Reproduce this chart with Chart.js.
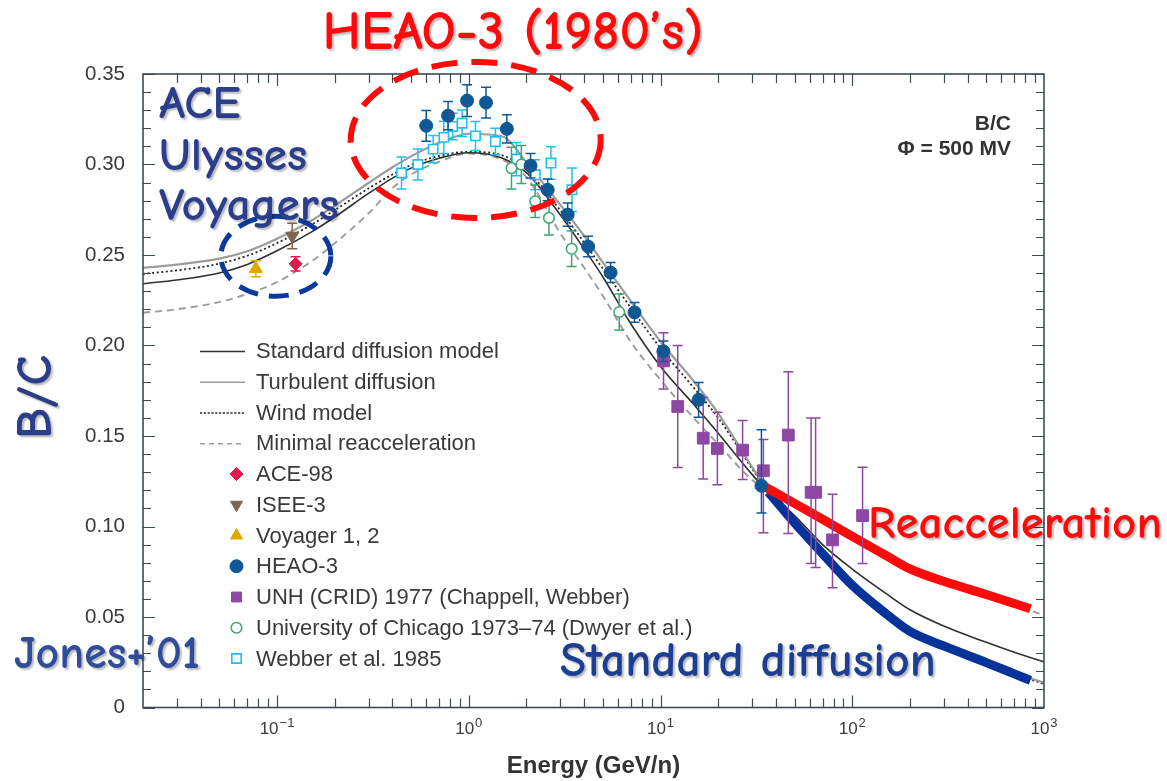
<!DOCTYPE html>
<html>
<head>
<meta charset="utf-8">
<title>B/C ratio versus energy</title>
<script src="https://cdn.jsdelivr.net/npm/chart.js@4.4.1/dist/chart.umd.min.js"></script>
<style>
  html, body { margin: 0; padding: 0; background: #ffffff; }
  canvas { display: block; }
</style>
</head>
<body>
<canvas id="bc" width="1167" height="781"></canvas>
<script>
// ---- propagation models: energy grid (GeV/n) and B/C ratio ----
const modelEnergy = [0.02, 0.03, 0.05, 0.07, 0.1, 0.15, 0.2, 0.3, 0.4, 0.5,
                     0.7, 1, 1.5, 2, 3, 4, 5, 7, 10, 15,
                     20, 30, 35, 50, 70, 100, 150, 200, 300, 500,
                     700, 1000];
const stdDiffusion = [0.2341, 0.2362, 0.2401, 0.2448, 0.2523, 0.2625, 0.2710, 0.2840, 0.2925, 0.2980,
                      0.3035, 0.3065, 0.3035, 0.2955, 0.2722, 0.2533, 0.2380, 0.2120, 0.1884, 0.1671,
                      0.1515, 0.1288, 0.1210, 0.1060, 0.0900, 0.0765, 0.0630, 0.0540, 0.0450, 0.0360,
                      0.0305, 0.0252];
const turbulentDiffusion = [0.2429, 0.2447, 0.2480, 0.2521, 0.2590, 0.2688, 0.2772, 0.2898, 0.2985, 0.3045,
                            0.3120, 0.3170, 0.3155, 0.3010, 0.2777, 0.2605, 0.2459, 0.2245, 0.2022, 0.1799,
                            0.1625, 0.1330, 0.1225, 0.1030, 0.0840, 0.0675, 0.0525, 0.0425, 0.0335, 0.0245,
                            0.0190, 0.0138];
const windModel = [0.2396, 0.2415, 0.2452, 0.2496, 0.2566, 0.2665, 0.2748, 0.2868, 0.2945, 0.2997,
                   0.3047, 0.3070, 0.3050, 0.2970, 0.2747, 0.2568, 0.2425, 0.2209, 0.1985, 0.1763,
                   0.1600, 0.1320, 0.1215, 0.1020, 0.0835, 0.0670, 0.0520, 0.0420, 0.0330, 0.0240,
                   0.0185, 0.0130];
const minimalReacc = [0.2181, 0.2200, 0.2240, 0.2285, 0.2350, 0.2462, 0.2565, 0.2730, 0.2870, 0.2945,
                      0.3015, 0.3060, 0.3025, 0.2930, 0.2620, 0.2430, 0.2275, 0.2020, 0.1810, 0.1596,
                      0.1455, 0.1258, 0.1210, 0.1120, 0.1030, 0.0935, 0.0830, 0.0755, 0.0690, 0.0610,
                      0.0565, 0.0510];

// ---- highlighted high-energy behaviour ----
const reaccHighlightEnergy = [34.4, 50, 70, 100, 150, 200, 300, 500, 850];
const reaccHighlight = [0.1224, 0.1128, 0.1040, 0.0945, 0.0840, 0.0766, 0.0697, 0.0624, 0.0546];
const diffHighlightEnergy = [36.5, 50, 70, 100, 150, 200, 300, 500, 700, 850];
const diffHighlight = [0.1190, 0.1020, 0.0850, 0.0675, 0.0518, 0.0420, 0.0340, 0.0248, 0.0186, 0.0150];

// ---- measurements ----
const aceEnergy = [0.125];
const aceRatio = [0.2451];
const aceErr = [0.0039];

const iseeEnergy = [0.12];
const iseeRatio = [0.2605];
const iseeErr = [0.0070];

const voyagerEnergy = [0.0775];
const voyagerRatio = [0.2424];
const voyagerErr = [0.0044];

const heaoEnergy = [0.60, 0.78, 0.98, 1.23, 1.58, 2.10, 2.58, 3.28, 4.19, 5.49, 7.32, 10.35, 15.8, 33.6];
const heaoRatio = [0.3214, 0.3270, 0.3353, 0.3342, 0.3197, 0.2993, 0.2860, 0.2723, 0.2547, 0.2403, 0.2183, 0.1968, 0.1700, 0.1225];
const heaoErrUp = [0.0085, 0.0078, 0.0088, 0.0085, 0.0078, 0.0068, 0.0060, 0.0064, 0.0057, 0.0055, 0.0055, 0.0057, 0.0096, 0.0310];
const heaoErrDn = [0.0085, 0.0078, 0.0088, 0.0085, 0.0078, 0.0068, 0.0060, 0.0064, 0.0057, 0.0055, 0.0055, 0.0057, 0.0096, 0.0150];

const unhEnergy = [10.37, 12.3, 16.7, 19.8, 26.8, 34.4, 46.4, 61.0, 64.4, 78.9, 113.2];
const unhRatio = [0.1915, 0.1663, 0.1488, 0.1431, 0.1422, 0.1308, 0.1505, 0.1189, 0.1189, 0.0926, 0.1060];
const unhErrUp = [0.0155, 0.0337, 0.0225, 0.0200, 0.0163, 0.0172, 0.0350, 0.0411, 0.0411, 0.0252, 0.0268];
const unhErrDn = [0.0155, 0.0337, 0.0225, 0.0200, 0.0163, 0.0342, 0.0543, 0.0393, 0.0415, 0.0264, 0.0264];

const chicagoEnergy = [1.67, 1.88, 2.22, 2.62, 3.44, 6.09];
const chicagoRatio = [0.2980, 0.3000, 0.2797, 0.2705, 0.2534, 0.2185];
const chicagoErr = [0.0115, 0.0105, 0.0090, 0.0094, 0.0098, 0.0100];

const webberEnergy = [0.446, 0.543, 0.652, 0.741, 0.825, 0.923, 1.084, 1.377, 1.772, 2.224, 2.683, 3.452];
const webberRatio = [0.2953, 0.3000, 0.3085, 0.3150, 0.3210, 0.3228, 0.3158, 0.3127, 0.3030, 0.2943, 0.3008, 0.2860];
const webberErr = [0.0089, 0.0085, 0.0075, 0.0089, 0.0073, 0.0073, 0.0080, 0.0073, 0.0092, 0.0083, 0.0090, 0.0120];

// ---- axes ----
const xMin = 0.02, xMax = 1000;
const yMin = 0, yMax = 0.35;
const xMajorTicks = [0.1, 1, 10, 100, 1000];
const xTickExponents = ['\u22121', '0', '1', '2', '3'];
const yMajorTicks = [0, 0.05, 0.10, 0.15, 0.20, 0.25, 0.30, 0.35];
const yTickLabels = ['0', '0.05', '0.10', '0.15', '0.20', '0.25', '0.30', '0.35'];

// ---- styling ----
const SANS = "'Liberation Sans', Arial, Helvetica, sans-serif";
const HAND = "'Comic Sans MS', 'Comic Neue', 'DejaVu Sans', sans-serif";
const AXIS_COLOR = '#3d4b53';
const TEXT_COLOR = '#3a3a3a';

Chart.defaults.font.family = SANS;

const pts = (xs, ys) => xs.map((x, i) => ({ x: x, y: ys[i] }));

// every minor/major x tick position inside the range
const xAllTicks = [];
for (let e = -2; e <= 2; e++) {
  for (let k = 1; k <= 9; k++) {
    const v = Number((k * Math.pow(10, e)).toPrecision(6));
    if (v > xMin && v < xMax) xAllTicks.push(v);
  }
}
const yAllTicks = [];
for (let i = 0; i <= 35; i++) yAllTicks.push(i / 100);

function curve(label, ys, color, width, dash, legendDash) {
  return {
    label: label, data: pts(modelEnergy, ys), showLine: true, pointRadius: 0,
    borderColor: color, backgroundColor: color, borderWidth: width, borderDash: dash,
    cubicInterpolationMode: 'monotone', fill: false, order: 2,
    legendKind: 'line', legendDash: legendDash
  };
}
function measured(label, xs, ys, up, dn, style) {
  return Object.assign({
    label: label, data: pts(xs, ys), showLine: false, order: 0,
    errUp: up, errDn: dn || up, legendKind: 'marker'
  }, style);
}

const datasets = [
  curve('Standard diffusion model', stdDiffusion, '#303030', 1.6, [], []),
  curve('Turbulent diffusion', turbulentDiffusion, '#9c9c9c', 2.2, [], []),
  curve('Wind model', windModel, '#262626', 1.8, [2, 2.6], [2.2, 1.6]),
  curve('Minimal reacceleration', minimalReacc, '#9c9c9c', 1.9, [7, 5], [5, 4]),
  measured('ACE-98', aceEnergy, aceRatio, aceErr, null, {
    pointStyle: 'rectRot', pointRadius: 6.5, backgroundColor: '#e3184c', borderColor: '#e3184c', borderWidth: 1, capHalf: 5 }),
  measured('ISEE-3', iseeEnergy, iseeRatio, iseeErr, null, {
    pointStyle: 'triangle', pointRotation: 180, pointRadius: 7.5, backgroundColor: '#7e6550', borderColor: '#7e6550', borderWidth: 1, capHalf: 5 }),
  measured('Voyager 1, 2', voyagerEnergy, voyagerRatio, voyagerErr, null, {
    pointStyle: 'triangle', pointRadius: 7.5, backgroundColor: '#dfa800', borderColor: '#dfa800', borderWidth: 1, capHalf: 5 }),
  measured('HEAO-3', heaoEnergy, heaoRatio, heaoErrUp, heaoErrDn, {
    pointStyle: 'circle', pointRadius: 6.5, backgroundColor: '#0f5893', borderColor: '#0f5893', borderWidth: 1, capHalf: 5 }),
  measured('UNH (CRID) 1977 (Chappell, Webber)', unhEnergy, unhRatio, unhErrUp, unhErrDn, {
    pointStyle: 'rect', pointRadius: 8.3, backgroundColor: '#8e47a3', borderColor: '#8e47a3', borderWidth: 1, capHalf: 5 }),
  measured('University of Chicago 1973\u201374 (Dwyer et al.)', chicagoEnergy, chicagoRatio, chicagoErr, null, {
    pointStyle: 'circle', pointRadius: 5.3, backgroundColor: '#ffffff', borderColor: '#3aa86f', borderWidth: 1.5, capHalf: 5 }),
  measured('Webber et al. 1985', webberEnergy, webberRatio, webberErr, null, {
    pointStyle: 'rect', pointRadius: 6.6, backgroundColor: '#ffffff', borderColor: '#1ec0ee', borderWidth: 1.6, capHalf: 5 }),
  {
    label: 'Reacceleration', data: pts(reaccHighlightEnergy, reaccHighlight), showLine: true, pointRadius: 0,
    borderColor: '#ff0a0a', borderWidth: 9, borderCapStyle: 'butt', cubicInterpolationMode: 'monotone', order: 1
  },
  {
    label: 'Standard diffusion', data: pts(diffHighlightEnergy, diffHighlight), showLine: true, pointRadius: 0,
    borderColor: '#053399', borderWidth: 9, borderCapStyle: 'butt', cubicInterpolationMode: 'monotone', order: 1
  }
];

// vertical error bars, drawn just beneath the markers of their own series
const errorBarPlugin = {
  id: 'errorBars',
  beforeDatasetDraw(chart, args) {
    const ds = chart.data.datasets[args.index];
    if (!ds.errUp) return;
    const { ctx, scales: { x, y } } = chart;
    const cap = ds.capHalf || 5;
    ctx.save();
    ctx.strokeStyle = ds.borderColor;
    ctx.lineWidth = 1.5;
    ctx.beginPath();
    ds.data.forEach((p, i) => {
      const px = x.getPixelForValue(p.x);
      const yTop = y.getPixelForValue(p.y + ds.errUp[i]);
      const yBot = y.getPixelForValue(p.y - ds.errDn[i]);
      ctx.moveTo(px, yTop); ctx.lineTo(px, yBot);
      ctx.moveTo(px - cap, yTop); ctx.lineTo(px + cap, yTop);
      ctx.moveTo(px - cap, yBot); ctx.lineTo(px + cap, yBot);
    });
    ctx.stroke();
    ctx.restore();
  }
};

function drawMarker(ctx, ds, cx, cy) {
  const r = ds.pointRadius;
  const rot = (ds.pointRotation || 0) * Math.PI / 180;
  ctx.save();
  ctx.fillStyle = ds.backgroundColor;
  ctx.strokeStyle = ds.borderColor;
  ctx.lineWidth = ds.borderWidth;
  ctx.beginPath();
  if (ds.pointStyle === 'circle') {
    ctx.arc(cx, cy, r, 0, Math.PI * 2);
  } else if (ds.pointStyle === 'rect') {
    const s = Math.SQRT1_2 * r;
    ctx.rect(cx - s, cy - s, 2 * s, 2 * s);
  } else if (ds.pointStyle === 'rectRot') {
    ctx.moveTo(cx, cy - r); ctx.lineTo(cx + r, cy); ctx.lineTo(cx, cy + r); ctx.lineTo(cx - r, cy); ctx.closePath();
  } else if (ds.pointStyle === 'triangle') {
    let a = rot;
    ctx.moveTo(cx + Math.sin(a) * r, cy - Math.cos(a) * r);
    a += 2 * Math.PI / 3;
    ctx.lineTo(cx + Math.sin(a) * r, cy - Math.cos(a) * r);
    a += 2 * Math.PI / 3;
    ctx.lineTo(cx + Math.sin(a) * r, cy - Math.cos(a) * r);
    ctx.closePath();
  }
  ctx.fill();
  if (ds.borderWidth > 0) ctx.stroke();
  ctx.restore();
}

// font size that makes a hand-lettered label span the given width
function fitSize(ctx, text, width, bold) {
  ctx.save();
  ctx.font = (bold ? 'bold ' : '') + '100px ' + HAND;
  const w = ctx.measureText(text).width;
  ctx.restore();
  return 100 * width / w;
}

function handText(ctx, text, x, y, width, color, opts) {
  opts = opts || {};
  const size = fitSize(ctx, opts.fitText || text, width, true);
  ctx.save();
  ctx.font = 'bold ' + size + 'px ' + HAND;
  ctx.fillStyle = color;
  ctx.textAlign = opts.align || 'left';
  ctx.textBaseline = opts.baseline || 'alphabetic';
  ctx.shadowColor = 'rgba(0,0,0,0.28)';
  ctx.shadowBlur = 2;
  ctx.shadowOffsetX = 2;
  ctx.shadowOffsetY = 2;
  if (opts.rotate) {
    ctx.translate(x, y);
    ctx.rotate(opts.rotate);
    ctx.fillText(text, 0, 0);
  } else {
    ctx.fillText(text, x, y);
  }
  ctx.restore();
}

function dashedEllipse(ctx, cx, cy, rx, ry, color, width, dash) {
  ctx.save();
  ctx.strokeStyle = color;
  ctx.lineWidth = width;
  ctx.setLineDash(dash);
  ctx.beginPath();
  ctx.ellipse(cx, cy, rx, ry, 0, 0, Math.PI * 2);
  ctx.stroke();
  ctx.restore();
}

// frame with inward ticks on all four sides, x tick labels, legend and annotations
const decorPlugin = {
  id: 'decor',
  afterDatasetsDraw(chart) {
    const { ctx, chartArea: a, scales: { x, y } } = chart;
    const isMajorX = v => Math.abs(Math.log10(v) - Math.round(Math.log10(v))) < 1e-9;

    ctx.save();
    ctx.strokeStyle = AXIS_COLOR;
    ctx.lineWidth = 1.2;
    ctx.beginPath();
    xAllTicks.forEach(v => {
      const px = Math.round(x.getPixelForValue(v)) + 0.5;
      const len = isMajorX(v) ? 12 : 9;
      ctx.moveTo(px, a.bottom); ctx.lineTo(px, a.bottom - len);
      ctx.moveTo(px, a.top); ctx.lineTo(px, a.top + len);
    });
    yAllTicks.forEach(v => {
      const py = Math.round(y.getPixelForValue(v)) + 0.5;
      const len = (Math.round(v * 100) % 5 === 0) ? 12 : 8;
      ctx.moveTo(a.left, py); ctx.lineTo(a.left + len, py);
      ctx.moveTo(a.right, py); ctx.lineTo(a.right - len, py);
    });
    ctx.stroke();
    ctx.lineWidth = 1.6;
    ctx.strokeRect(a.left, a.top, a.right - a.left, a.bottom - a.top);

    // x tick labels as powers of ten
    ctx.fillStyle = TEXT_COLOR;
    ctx.textBaseline = 'alphabetic';
    ctx.textAlign = 'left';
    xMajorTicks.forEach((v, i) => {
      const px = x.getPixelForValue(v);
      ctx.font = '17px ' + SANS;
      const wBase = ctx.measureText('10').width;
      ctx.font = '13px ' + SANS;
      const wExp = ctx.measureText(xTickExponents[i]).width;
      const start = px - (wBase + 1 + wExp) / 2;
      ctx.font = '17px ' + SANS;
      ctx.fillText('10', start, 734);
      ctx.font = '13px ' + SANS;
      ctx.fillText(xTickExponents[i], start + wBase + 1, 727);
    });

    // modulation note, upper right
    ctx.font = 'bold 21px ' + SANS;
    ctx.fillStyle = '#333333';
    ctx.textAlign = 'right';
    ctx.fillText('B/C', 1011, 130);
    ctx.fillText('\u03A6 = 500 MV', 1011, 155);

    // legend
    const rowY0 = 351, rowStep = 30.75;
    let row = 0;
    chart.data.datasets.forEach(ds => {
      if (!ds.legendKind) return;
      const cy = rowY0 + row * rowStep;
      if (ds.legendKind === 'line') {
        ctx.save();
        ctx.strokeStyle = ds.borderColor;
        ctx.lineWidth = Math.min(ds.borderWidth, 1.6);
        ctx.setLineDash(ds.legendDash);
        ctx.beginPath();
        ctx.moveTo(200, cy + 0.5); ctx.lineTo(245, cy + 0.5);
        ctx.stroke();
        ctx.restore();
      } else {
        drawMarker(ctx, Object.assign({}, ds, { pointRadius: Math.min(ds.pointRadius, 7) }), 236.5, cy);
      }
      ctx.font = '22px ' + SANS;
      ctx.fillStyle = TEXT_COLOR;
      ctx.textAlign = 'left';
      ctx.textBaseline = 'middle';
      ctx.fillText(ds.label, 256, cy + 1);
      row++;
    });
    ctx.restore();

    // highlighted data groups
    dashedEllipse(ctx, x.getPixelForValue(1.087), y.getPixelForValue(0.3136), 125, 78, '#ff0a0a', 6, [26, 14]);
    dashedEllipse(ctx, x.getPixelForValue(0.0986), y.getPixelForValue(0.2493), 55, 40, '#0a3a9c', 5, [20, 11]);

    // annotations
    handText(ctx, 'HEAO-3 (1980\u2019s)', 513, 49, 381, '#ff0a0a', { align: 'center' });
    handText(ctx, 'ACE', 159, 118, 180, '#2b3e8c', { fitText: 'Voyagers' });
    handText(ctx, 'Ulysses', 159, 170, 180, '#2b3e8c', { fitText: 'Voyagers' });
    handText(ctx, 'Voyagers', 159, 220, 180, '#2b3e8c');
    handText(ctx, 'Reacceleration', 868, 538, 294, '#ff0a0a');
    handText(ctx, 'Standard diffusion', 560, 676, 376, '#1c3f94');
    handText(ctx, 'Jones+\u201901', 14, 668, 186, '#2f4d9a');
    handText(ctx, 'B/C', 37, 397, 84, '#2b3e8c', { align: 'center', baseline: 'middle', rotate: -Math.PI / 2 });
  }
};

new Chart(document.getElementById('bc'), {
  type: 'scatter',
  data: { datasets: datasets },
  options: {
    responsive: false,
    animation: false,
    devicePixelRatio: 1,
    layout: { padding: { left: 0, right: 123, top: 74, bottom: 0 } },
    plugins: { legend: { display: false }, tooltip: { enabled: false } },
    scales: {
      x: {
        type: 'logarithmic', min: xMin, max: xMax,
        grid: { display: false }, border: { display: false },
        ticks: { display: false },
        title: {
          display: true, text: 'Energy (GeV/n)', color: '#333333',
          font: { family: SANS, size: 24, weight: 'bold' }, padding: { top: 0, bottom: 0 }
        },
        afterFit: s => { s.height = 73.5; }
      },
      y: {
        type: 'linear', min: yMin, max: yMax,
        grid: { display: false }, border: { display: false },
        afterBuildTicks: s => { s.ticks = yAllTicks.map(v => ({ value: v })); },
        ticks: {
          autoSkip: false, padding: 10, color: TEXT_COLOR,
          font: { family: SANS, size: 20.5 },
          callback: v => {
            const i = yMajorTicks.findIndex(t => Math.abs(t - v) < 1e-9);
            return i >= 0 ? yTickLabels[i] : '';
          }
        },
        afterFit: s => { s.width = 143; }
      }
    }
  },
  plugins: [errorBarPlugin, decorPlugin]
});
</script>
</body>
</html>
